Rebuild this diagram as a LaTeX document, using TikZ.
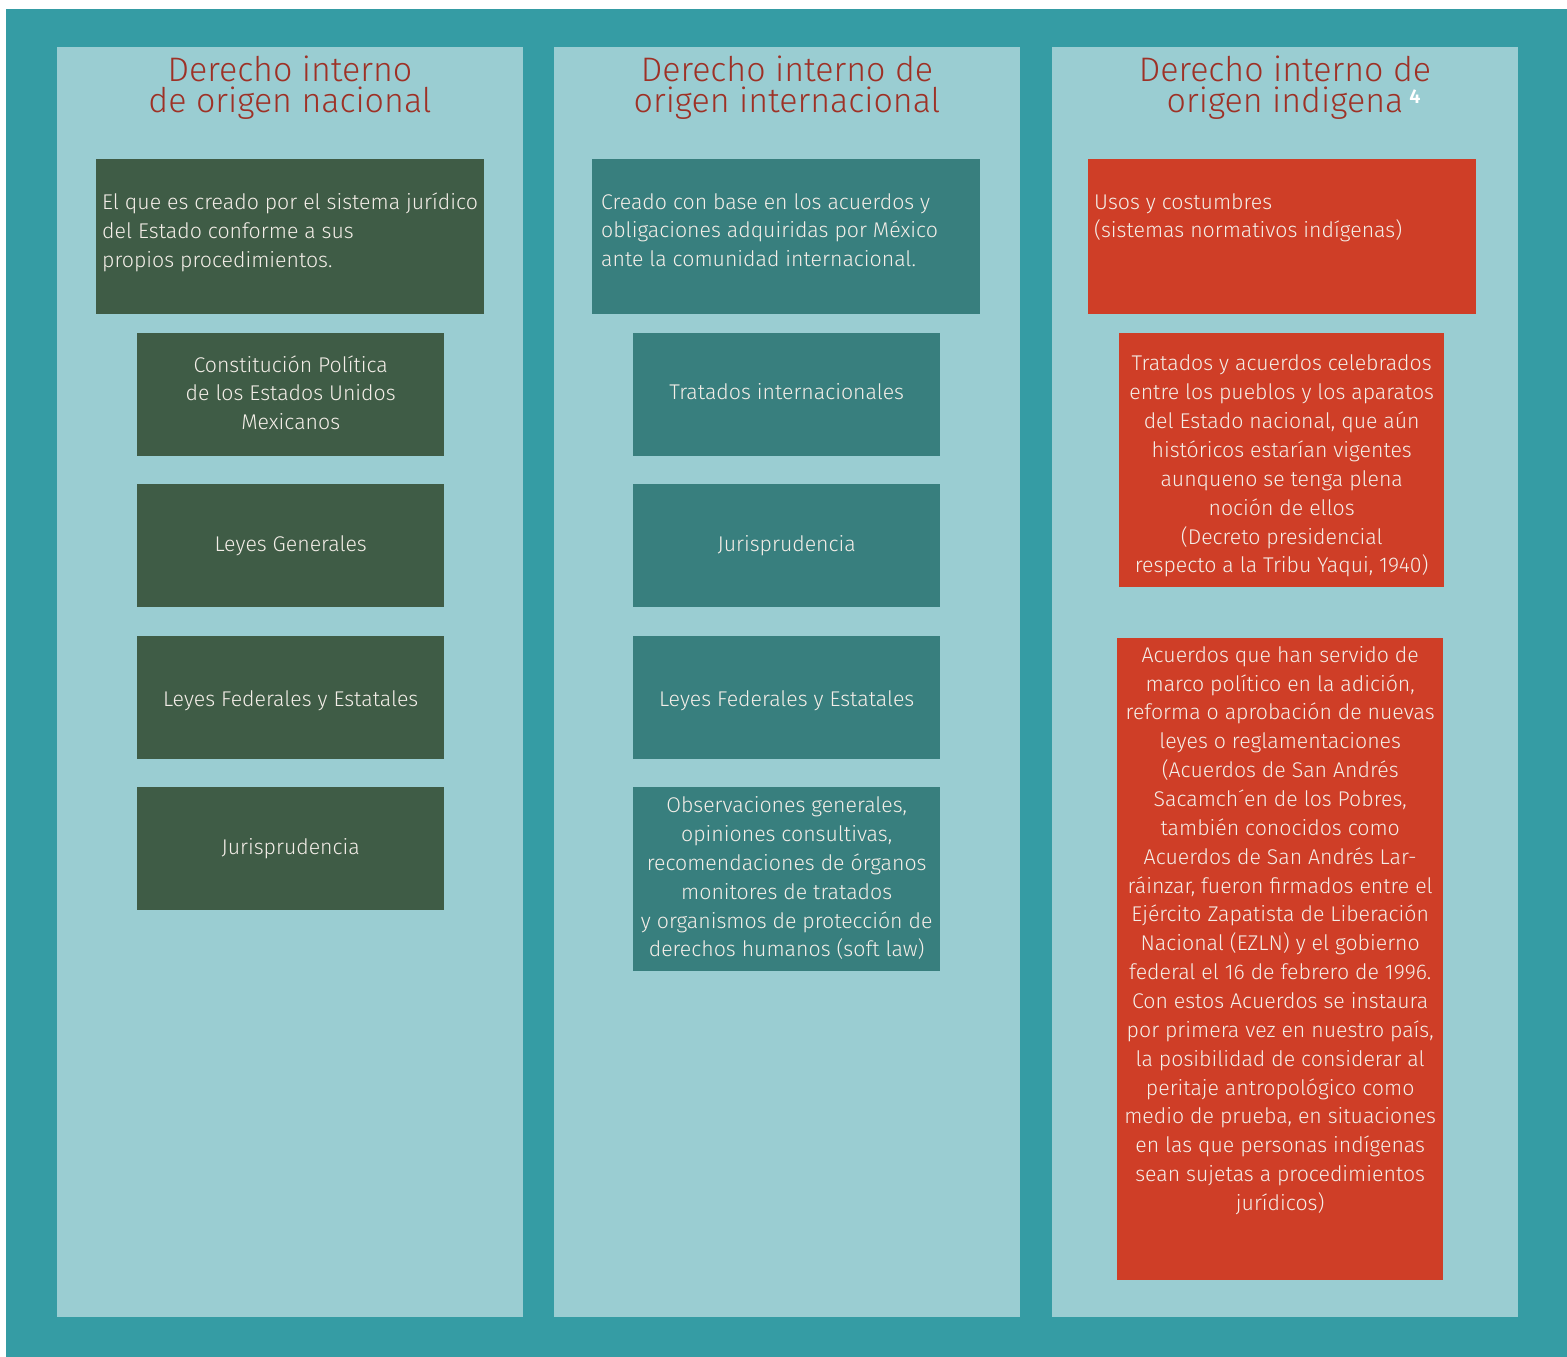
\documentclass[tikz,border=0pt]{standalone}
\usepackage{fontspec}
\setmainfont{Fira Sans}[UprightFont=* Light, BoldFont=* SemiBold]
\definecolor{frameteal}{HTML}{359CA4}
\definecolor{colbg}{HTML}{9ACDD2}
\definecolor{darkgreen}{HTML}{3F5C46}
\definecolor{boxteal}{HTML}{387F7E}
\definecolor{boxred}{HTML}{CF3E27}
\definecolor{titlered}{HTML}{9E3126}
\definecolor{boxtext}{HTML}{F4EEE8}
\tikzset{
  column/.style={fill=colbg},
  panel/.style={draw=none, inner sep=0pt, anchor=north west},
  boxlabel/.style={text=boxtext, align=center, font=\fontsize{21.3}{28.85}\selectfont, inner sep=0pt},
  leftlabel/.style={text=boxtext, align=left, font=\fontsize{21.3}{28.85}\selectfont, inner sep=0pt, anchor=north west},
  title/.style={text=titlered, align=center, font=\fontsize{34}{31}\selectfont, inner sep=0pt}
}
\newcommand{\panelbox}[6]{% name, colour, x, y, w, h
  \node[panel, fill=#2, minimum width=#5pt, minimum height=#6pt] (#1) at (#3,#4) {};}
\begin{document}
\begin{tikzpicture}[x=1pt,y=-1pt]
\useasboundingbox (0,0) rectangle (1567,1357);
\fill[frameteal] (6,9) rectangle (1567,1357);
% three columns
\fill[column] (57,47) rectangle (523,1317);
\fill[column] (554,47) rectangle (1020,1317);
\fill[column] (1052,47) rectangle (1518,1317);

% headings
\node[title] (t1) at (290,88) {Derecho interno\\de origen nacional};
\node[title] (t2) at (787,88) {Derecho interno de\\origen internacional};
\node[title] (t3) at (1285,88) {Derecho interno de\\origen indigena};
\node[text=white, font=\fontsize{20}{20}\selectfont\bfseries, inner sep=0pt] (fn) at (1415,97) {4};

% national column
\panelbox{n0}{darkgreen}{96}{159}{388}{155}
\panelbox{n1}{darkgreen}{137}{333}{307}{123}
\panelbox{n2}{darkgreen}{137}{484}{307}{123}
\panelbox{n3}{darkgreen}{137}{636}{307}{123}
\panelbox{n4}{darkgreen}{137}{787}{307}{123}
\node[leftlabel] at ([shift={(6,34)}]n0.north west) {El que es creado por el sistema jurídico\\del Estado conforme a sus\\propios procedimientos.};
\node[boxlabel] at ([yshift=2]n1.center) {Constitución Política\\de los Estados Unidos\\Mexicanos};
\node[boxlabel] at (n2.center) {Leyes Generales};
\node[boxlabel] at ([yshift=-3]n3.center) {Leyes Federales y Estatales};
\node[boxlabel] at (n4.center) {Jurisprudencia};

% international column
\panelbox{i0}{boxteal}{592}{159}{388}{155}
\panelbox{i1}{boxteal}{633}{333}{307}{123}
\panelbox{i2}{boxteal}{633}{484}{307}{123}
\panelbox{i3}{boxteal}{633}{636}{307}{123}
\panelbox{i4}{boxteal}{633}{787}{307}{184}
\node[leftlabel] at ([shift={(9,34)}]i0.north west) {Creado con base en los acuerdos y\\obligaciones adquiridas por México\\ante la comunidad internacional.};
\node[boxlabel] at ([yshift=3]i1.center) {Tratados internacionales};
\node[boxlabel] at (i2.center) {Jurisprudencia};
\node[boxlabel] at ([yshift=-3]i3.center) {Leyes Federales y Estatales};
\node[boxlabel] at ([yshift=1]i4.center) {Observaciones generales,\\opiniones consultivas,\\recomendaciones de órganos\\monitores de tratados\\y organismos de protección de\\derechos humanos (soft law)};

% indigenous column
\panelbox{d0}{boxred}{1088}{159}{388}{155}
\panelbox{d1}{boxred}{1119}{333}{325}{254}
\panelbox{d2}{boxred}{1117}{638}{326}{642}
\node[leftlabel] at ([shift={(6,34)}]d0.north west) {Usos y costumbres\\(sistemas normativos indígenas)};
\node[boxlabel] at ([yshift=-6]d1.center) {Tratados y acuerdos celebrados\\entre los pueblos y los aparatos\\del Estado nacional, que aún\\históricos estarían vigentes\\aunqueno se tenga plena\\noción de ellos\\(Decreto presidencial\\respecto a la Tribu Yaqui, 1940)};
\node[boxlabel, anchor=north] at ([yshift=-8]d2.north) {Acuerdos que han servido de\\marco político en la adición,\\reforma o aprobación de nuevas\\leyes o reglamentaciones\\(Acuerdos de San Andrés\\Sacamch´en de los Pobres,\\también conocidos como\\Acuerdos de San Andrés Lar-\\ráinzar, fueron firmados entre el\\Ejército Zapatista de Liberación\\Nacional (EZLN) y el gobierno\\federal el 16 de febrero de 1996.\\Con estos Acuerdos se instaura\\por primera vez en nuestro país,\\la posibilidad de considerar al\\peritaje antropológico como\\medio de prueba, en situaciones\\en las que personas indígenas\\sean sujetas a procedimientos\\jurídicos)};
\end{tikzpicture}
\end{document}
